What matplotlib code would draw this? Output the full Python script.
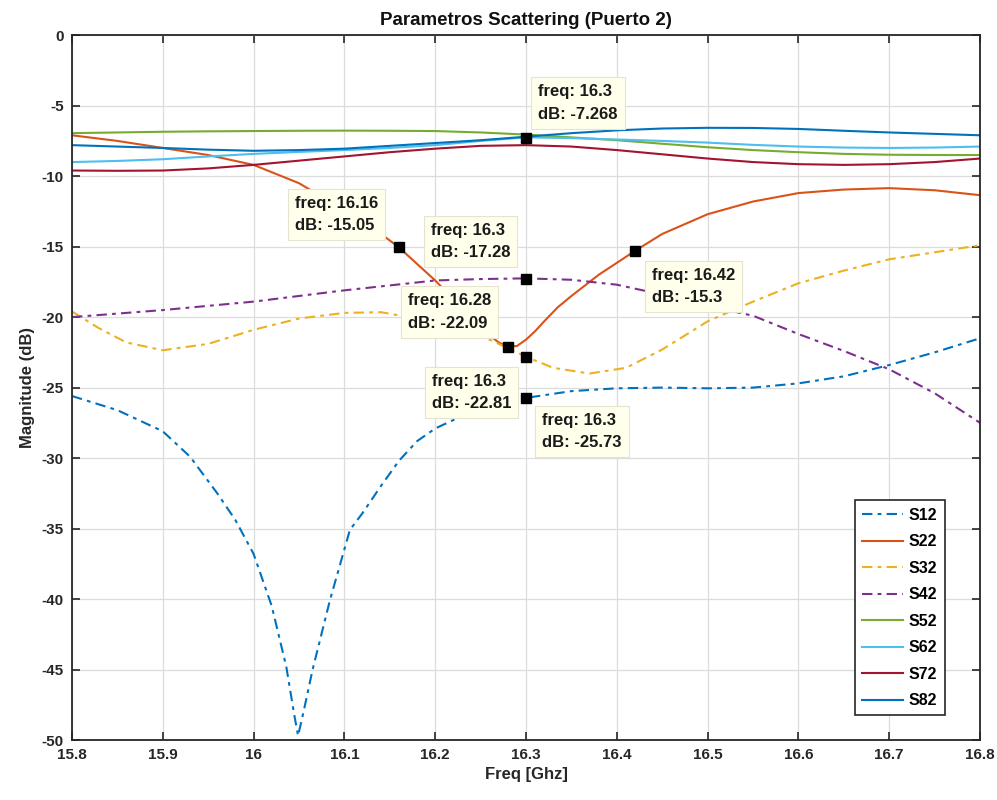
import matplotlib
matplotlib.use('Agg')
import matplotlib.pyplot as plt
from matplotlib.ticker import FuncFormatter, MultipleLocator

plt.rcParams['font.family'] = ['Liberation Sans', 'DejaVu Sans']
plt.rcParams['axes.unicode_minus'] = False

# ---------------------------------------------------------------------------
# Data (freq in GHz, magnitude in dB)
# ---------------------------------------------------------------------------

freq_flat = [15.8, 15.85, 15.9, 15.95, 16.0, 16.05, 16.1, 16.15, 16.2, 16.25, 16.3,
             16.35, 16.4, 16.45, 16.5, 16.55, 16.6, 16.65, 16.7, 16.75, 16.8]

s52 = [-6.95, -6.9, -6.85, -6.82, -6.8, -6.78, -6.77, -6.78, -6.8, -6.9, -7.05,
       -7.25, -7.45, -7.7, -7.95, -8.15, -8.3, -8.42, -8.48, -8.5, -8.5]
s62 = [-9.0, -8.92, -8.8, -8.6, -8.42, -8.28, -8.15, -8.0, -7.8, -7.5, -7.25,
       -7.3, -7.4, -7.5, -7.62, -7.78, -7.9, -7.97, -8.0, -7.97, -7.9]
s72 = [-9.6, -9.62, -9.6, -9.45, -9.2, -8.9, -8.6, -8.3, -8.05, -7.85, -7.8,
       -7.9, -8.15, -8.45, -8.75, -9.0, -9.15, -9.2, -9.15, -9.0, -8.75]
s82 = [-7.8, -7.9, -8.0, -8.12, -8.2, -8.15, -8.05, -7.85, -7.65, -7.45, -7.2,
       -6.95, -6.75, -6.62, -6.57, -6.58, -6.65, -6.78, -6.9, -7.0, -7.1]

freq_s12 = [15.8, 15.85, 15.9, 15.93, 15.96, 15.98, 16.0, 16.02, 16.036, 16.045, 16.049,
            16.055, 16.065, 16.084, 16.106, 16.12, 16.14, 16.16, 16.18, 16.2, 16.23,
            16.26, 16.3, 16.35, 16.4, 16.45, 16.5, 16.55, 16.6, 16.65, 16.7, 16.75, 16.8]
s12 = [-25.6, -26.6, -28.1, -29.9, -32.5, -34.4, -36.8, -40.5, -44.8, -48.3, -49.7,
       -48.0, -45.0, -40.1, -35.1, -33.9, -32.0, -30.2, -28.8, -27.9, -27.0,
       -26.4, -25.73, -25.25, -25.05, -25.0, -25.05, -25.0, -24.7, -24.2, -23.4, -22.5, -21.5]

freq_s22 = [15.8, 15.85, 15.9, 15.95, 16.0, 16.05, 16.1, 16.13, 16.16, 16.2, 16.23,
            16.25, 16.27, 16.28, 16.29, 16.3, 16.31, 16.32, 16.335, 16.35, 16.38, 16.42,
            16.45, 16.5, 16.55, 16.6, 16.65, 16.7, 16.75, 16.8]
s22 = [-7.1, -7.5, -8.0, -8.5, -9.2, -10.5, -12.4, -13.6, -15.05, -17.4, -19.4,
       -20.8, -21.8, -22.09, -22.05, -21.6, -21.0, -20.3, -19.3, -18.5, -17.0, -15.3,
       -14.1, -12.7, -11.8, -11.2, -10.95, -10.85, -11.0, -11.35]

freq_s32 = [15.8, 15.83, 15.86, 15.9, 15.95, 16.0, 16.05, 16.1, 16.14, 16.18, 16.22,
            16.26, 16.3, 16.33, 16.37, 16.41, 16.45, 16.5, 16.55, 16.6, 16.65, 16.7,
            16.75, 16.8]
s32 = [-19.6, -20.8, -21.8, -22.35, -21.9, -20.9, -20.1, -19.7, -19.65, -20.1, -20.8,
       -21.6, -22.81, -23.6, -24.0, -23.6, -22.3, -20.3, -18.9, -17.6, -16.7, -15.9,
       -15.4, -14.9]

freq_s42 = [15.8, 15.9, 16.0, 16.1, 16.2, 16.25, 16.3, 16.35, 16.4, 16.45, 16.5,
            16.55, 16.6, 16.65, 16.7, 16.75, 16.8]
s42 = [-20.0, -19.5, -18.9, -18.1, -17.4, -17.3, -17.25, -17.35, -17.7, -18.4, -19.2,
       -19.9, -21.2, -22.4, -23.7, -25.4, -27.5]

# data tips (freq, dB)
tip_freq = [16.3, 16.16, 16.3, 16.42, 16.28, 16.3, 16.3]
tip_db = [-7.268, -15.05, -17.28, -15.3, -22.09, -22.81, -25.73]

# ---------------------------------------------------------------------------
# Styling
# ---------------------------------------------------------------------------

BLUE = '#0072BD'
ORANGE = '#D95319'
YELLOW = '#EDB120'
PURPLE = '#7E2F8E'
GREEN = '#77AC30'
CYAN = '#4DBEEE'
WINE = '#A2142F'

DASHDOT = (0, (5, 2.5, 1.8, 2.5))

# text offset (pixels) from marker and alignment of each data tip
tip_layout = [
    ((12, 16), 'left', 'bottom'),
    ((-21, 14), 'right', 'bottom'),
    ((-16, 19), 'right', 'bottom'),
    ((17, -17), 'left', 'top'),
    ((-17, 16), 'right', 'bottom'),
    ((-15, -17), 'right', 'top'),
    ((16, -15), 'left', 'top'),
]

fig = plt.figure(figsize=(9.97, 8.0), dpi=100)
fig.patch.set_facecolor('white')
ax = fig.add_axes([0.0722, 0.075, 0.9108, 0.881])

lw = 1.5
ax.plot(freq_s12, s12, color=BLUE, lw=lw, ls=DASHDOT, label='S12')
ax.plot(freq_s22, s22, color=ORANGE, lw=lw, label='S22')
ax.plot(freq_s32, s32, color=YELLOW, lw=lw, ls=DASHDOT, label='S32')
ax.plot(freq_s42, s42, color=PURPLE, lw=lw, ls=DASHDOT, label='S42')
ax.plot(freq_flat, s52, color=GREEN, lw=lw, label='S52')
ax.plot(freq_flat, s62, color=CYAN, lw=lw, label='S62')
ax.plot(freq_flat, s72, color=WINE, lw=lw, label='S72')
ax.plot(freq_flat, s82, color=BLUE, lw=lw, label='S82')

ax.set_xlim(15.8, 16.8)
ax.set_ylim(-50, 0)
ax.xaxis.set_major_locator(MultipleLocator(0.1))
ax.yaxis.set_major_locator(MultipleLocator(5))
ax.xaxis.set_major_formatter(FuncFormatter(lambda v, p: f'{round(v, 2):g}'))
ax.yaxis.set_major_formatter(FuncFormatter(lambda v, p: f'{round(v):g}'))

ax.grid(True, color='#dcdcdc', lw=0.9)
ax.set_axisbelow(True)
ax.tick_params(direction='in', top=True, right=True, length=6, width=1.2,
               color='#262626', labelsize=11, pad=6)
for lab in ax.get_xticklabels() + ax.get_yticklabels():
    lab.set_fontweight('bold')
    lab.set_color('#262626')
for sp in ax.spines.values():
    sp.set_color('#262626')
    sp.set_linewidth(1.3)

ax.set_title('Parametros Scattering (Puerto 2)', fontsize=13.5, fontweight='bold',
             color='#111111', pad=7)
ax.set_xlabel('Freq [Ghz]', fontsize=12, fontweight='bold', color='#262626', labelpad=3)
ax.set_ylabel('Magnitude (dB)', fontsize=12, fontweight='bold', color='#262626', labelpad=5)

# data tips
ax.plot(tip_freq, tip_db, ls='none', marker='s', ms=7, color='black', zorder=6)
for f, d, (off, ha, va) in zip(tip_freq, tip_db, tip_layout):
    ax.annotate(f'freq: {f:g}\ndB: {d:g}', xy=(f, d), xytext=off,
                textcoords='offset pixels', ha=ha, va=va, multialignment='left',
                fontsize=12, fontweight='bold', color='#1a1a1a', linespacing=1.6,
                zorder=7,
                bbox=dict(boxstyle='square,pad=0.42', fc='#FFFFEB', ec='#e4e4d0', lw=0.8))

leg = ax.legend(loc='lower right', bbox_to_anchor=(0.961, 0.035), borderaxespad=0,
                handlelength=2.6, labelspacing=0.72, handletextpad=0.35,
                borderpad=0.45, fancybox=False, framealpha=1, edgecolor='#262626',
                prop={'weight': 'bold', 'size': 11.5})
leg.get_frame().set_linewidth(1.2)

fig.savefig('out.png', dpi=100, facecolor='white')
